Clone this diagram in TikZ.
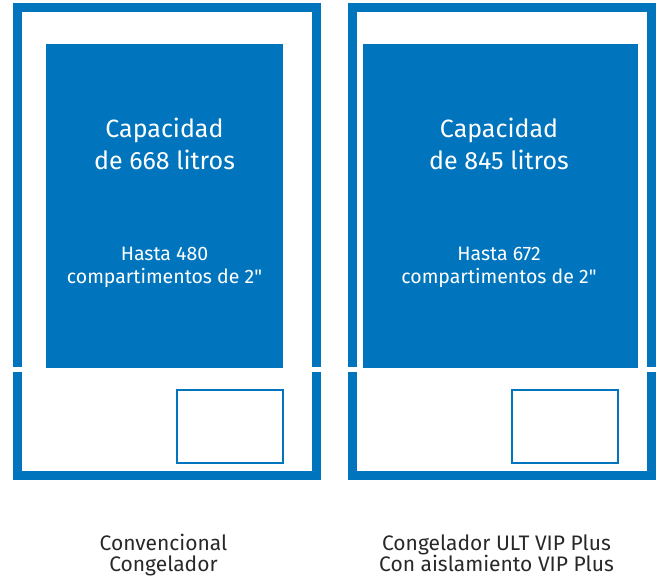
\documentclass[tikz,border=0pt]{standalone}
\usepackage{fontspec}
\setmainfont{Fira Sans}
\usepackage{xcolor}
\usetikzlibrary{positioning}
\definecolor{vipblue}{RGB}{0,117,190}
\definecolor{captiongrey}{RGB}{40,40,40}

\begin{document}
\begin{tikzpicture}[
            x=1pt, y=-1pt,                                   % pixel-like units, y down
            wall/.style={draw=vipblue, line width=9pt},      % cabinet walls
            load/.style={fill=vipblue, inner sep=0pt, anchor=north west},
            drawer/.style={draw=vipblue, line width=1.8pt, inner sep=0pt, anchor=north west},
            bigtext/.style={text=white, anchor=base, align=center, font=\fontsize{25}{32}\selectfont},
            smalltext/.style={text=white, anchor=base, align=center, font=\fontsize{19.5}{23}\selectfont},
            caption/.style={text=captiongrey, anchor=base, align=center, font=\fontsize{21}{21}\selectfont}
          ]
          \useasboundingbox (0,0) rectangle (658,576);

          % left cabinet walls (split where the door meets)
          \draw[wall] (17.5,367) -- (17.5,7.5) -- (316.5,7.5) -- (316.5,367);
          \draw[wall] (17.5,372) -- (17.5,475.5) -- (316.5,475.5) -- (316.5,372);
          % right cabinet walls
          \draw[wall] (352.5,367) -- (352.5,7.5) -- (651.5,7.5) -- (651.5,367);
          \draw[wall] (352.5,372) -- (352.5,475.5) -- (651.5,475.5) -- (651.5,372);

          % storage space
          \node (leftload) [load, minimum width=237pt, minimum height=324pt] at (46,44) {};
          \node (rightload) [load, minimum width=275pt, minimum height=324pt] at (363,44) {};

          % drawers
          \node (leftdrawer) [drawer, minimum width=106pt, minimum height=73pt] at (176,389) {};
          \node (rightdrawer) [drawer, minimum width=106pt, minimum height=73pt] at (511,389) {};

          % capacity texts (base = last line)
          \node (leftcap) [bigtext] at (164.5,169) {Capacidad\\de 668 litros};
          \node (rightcap) [bigtext] at (499,169) {Capacidad\\de 845 litros};
          \node (leftrack) [smalltext] at (164.5,283) {Hasta 480\\compartimentos de 2\textquotedbl};
          \node (rightrack) [smalltext] at (499,283) {Hasta 672\\compartimentos de 2\textquotedbl};

          % captions
          \node (leftname) [caption] at (163.5,571) {Convencional\\Congelador};
          \node (rightname) [caption] at (496.5,571) {Congelador ULT VIP Plus\\Con aislamiento VIP Plus};
        \end{tikzpicture}
\end{document}
